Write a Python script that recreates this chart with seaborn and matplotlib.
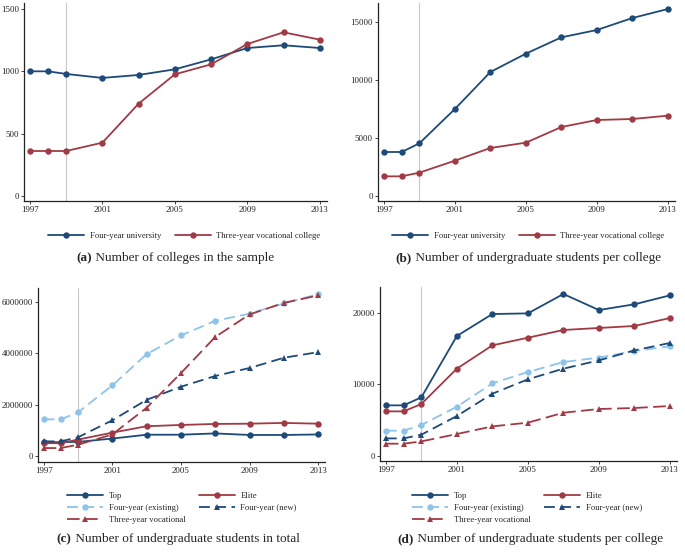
import numpy as np
import pandas as pd
import matplotlib
matplotlib.use("Agg")
import matplotlib.pyplot as plt
from matplotlib.lines import Line2D
import seaborn as sns

# ---------------------------------
# Data
# ---------------------------------
years = [1997, 1998, 1999, 2001, 2003, 2005, 2007, 2009, 2011, 2013]

# (a) number of colleges in the sample
colleges_univ = [1000, 1000, 979, 947, 971, 1016, 1096, 1187, 1209, 1187]
colleges_voc = [361, 361, 361, 428, 741, 976, 1056, 1219, 1313, 1254]

# (b) undergraduate students per college
per_college_univ = [3786, 3786, 4531, 7485, 10668, 12246, 13651, 14282, 15314, 16089]
per_college_voc = [1692, 1692, 2007, 3040, 4130, 4588, 5936, 6539, 6625, 6911]

# (c) undergraduate students in total
total_top = [540000, 540000, 550000, 680000, 830000, 830000, 880000, 820000, 820000, 840000]
total_elite = [500000, 500000, 640000, 910000, 1160000, 1210000, 1250000, 1260000, 1290000, 1260000]
total_existing = [1430000, 1430000, 1700000, 2750000, 3970000, 4700000, 5270000, 5550000, 5950000, 6310000]
total_new = [570000, 570000, 730000, 1390000, 2190000, 2700000, 3120000, 3430000, 3830000, 4050000]
total_voc = [310000, 310000, 440000, 840000, 1880000, 3230000, 4640000, 5520000, 5970000, 6260000]

# (d) undergraduate students per college, by type
pc_top = [7040, 7040, 8160, 16740, 19810, 19900, 22610, 20370, 21170, 22420]
pc_elite = [6200, 6200, 7230, 12170, 15430, 16500, 17580, 17860, 18140, 19250]
pc_existing = [3500, 3500, 4290, 6850, 10120, 11700, 13100, 13710, 14640, 15290]
pc_new = [2420, 2420, 2940, 5550, 8670, 10680, 12170, 13330, 14730, 15760]
pc_voc = [1680, 1680, 2000, 3030, 4100, 4620, 6010, 6530, 6670, 6950]

# ---------------------------------
# Styles
# ---------------------------------
DARK = "#1d4a78"
RED = "#a03a44"
LIGHT = "#8ec4ea"
GRID = "#c8c8c8"

styles = {
    "Four-year university": dict(color=DARK, marker="o", linestyle="-"),
    "Three-year vocational college": dict(color=RED, marker="o", linestyle="-"),
    "Top": dict(color=DARK, marker="o", linestyle="-"),
    "Elite": dict(color=RED, marker="o", linestyle="-"),
    "Four-year (existing)": dict(color=LIGHT, marker="o", linestyle=(0, (6, 3))),
    "Four-year (new)": dict(color=DARK, marker="^", linestyle=(0, (6, 3))),
    "Three-year vocational": dict(color=RED, marker="^", linestyle=(0, (7, 3))),
}

sns.set_theme(style="ticks")
plt.rcParams["font.family"] = ["Liberation Serif", "DejaVu Serif"]

fig = plt.figure(figsize=(6.85, 5.53), dpi=100)
W, H = 685, 553


def add_axes(x0, y0, x1, y1):
    return fig.add_axes([x0 / W, 1 - y1 / H, (x1 - x0) / W, (y1 - y0) / H])


def draw_panel(ax, series, ylim, yticks):
    for name, vals in series:
        st = styles[name]
        df = pd.DataFrame({"year": years, "value": vals})
        sns.lineplot(data=df, x="year", y="value", ax=ax, color=st["color"],
                     marker=st["marker"], linestyle=st["linestyle"], lw=1.3,
                     markersize=4.6, markeredgewidth=0, markeredgecolor=st["color"])
    ax.axvline(1999, color=GRID, lw=0.8, zorder=0)
    ax.set_xlim(1996.67, 2013.4)
    ax.set_ylim(*ylim)
    ax.set_xticks([1997, 2001, 2005, 2009, 2013])
    ax.set_xticklabels(["1997", "2001", "2005", "2009", "2013"])
    ax.set_yticks(yticks)
    ax.set_yticklabels([str(t) for t in yticks])
    ax.set_xlabel("")
    ax.set_ylabel("")
    ax.tick_params(labelsize=6.4, length=2.5, width=0.6, pad=1.2, colors="#222222")
    sns.despine(ax=ax)
    for s in ("left", "bottom"):
        ax.spines[s].set_linewidth(0.9)
        ax.spines[s].set_color("#222222")


def legend_handles(names):
    hs = []
    for n in names:
        st = styles[n]
        hs.append(Line2D([], [], color=st["color"], marker=st["marker"],
                         linestyle=st["linestyle"], lw=1.3, markersize=4.6,
                         markeredgewidth=0))
    return hs


def add_legend(names, x, y, ncol):
    fig.legend(legend_handles(names), names, loc="upper left",
               bbox_to_anchor=(x / W, 1 - y / H), ncol=ncol, frameon=False,
               fontsize=6.2, handlelength=4.2, handletextpad=0.6,
               columnspacing=1.6, labelspacing=0.45, borderpad=0)


def caption(xc, y, tag, text):
    t1 = fig.text(0, 1 - y / H, tag, fontsize=9.5, fontweight="bold", va="baseline")
    t2 = fig.text(0, 1 - y / H, " " + text, fontsize=9.5, va="baseline")
    r = fig.canvas.get_renderer()
    w1 = t1.get_window_extent(r).width
    w2 = t2.get_window_extent(r).width
    x0 = xc - (w1 + w2) / 2
    t1.set_x(x0 / W)
    t2.set_x((x0 + w1) / W)


# ---------------------------------
# Panels
# ---------------------------------
ax_a = add_axes(24, 3, 327, 201)
draw_panel(ax_a, [("Four-year university", colleges_univ),
                  ("Three-year vocational college", colleges_voc)],
           (-40, 1548), [0, 500, 1000, 1500])

ax_b = add_axes(378, 3, 675, 201)
draw_panel(ax_b, [("Four-year university", per_college_univ),
                  ("Three-year vocational college", per_college_voc)],
           (-430, 16605), [0, 5000, 10000, 15000])

ax_c = add_axes(38, 288, 325, 462)
draw_panel(ax_c, [("Top", total_top), ("Elite", total_elite),
                  ("Four-year (existing)", total_existing),
                  ("Four-year (new)", total_new),
                  ("Three-year vocational", total_voc)],
           (-234000, 6550000), [0, 2000000, 4000000, 6000000])

ax_d = add_axes(380, 287, 677, 461)
draw_panel(ax_d, [("Top", pc_top), ("Elite", pc_elite),
                  ("Four-year (existing)", pc_existing),
                  ("Four-year (new)", pc_new),
                  ("Three-year vocational", pc_voc)],
           (-740, 23590), [0, 10000, 20000])

# ---------------------------------
# Legends and captions
# ---------------------------------
two = ["Four-year university", "Three-year vocational college"]
add_legend(two, 44, 228, 2)
add_legend(two, 388, 228, 2)

five = ["Top", "Four-year (existing)", "Three-year vocational", "Elite", "Four-year (new)"]
add_legend(five, 63, 488, 2)
add_legend(five, 408, 488, 2)

caption(175, 261, "(a)", "Number of colleges in the sample")
caption(528, 261, "(b)", "Number of undergraduate students per college")
caption(178, 542, "(c)", "Number of undergraduate students in total")
caption(530, 542, "(d)", "Number of undergraduate students per college")

fig.savefig("out.png", dpi=100)
